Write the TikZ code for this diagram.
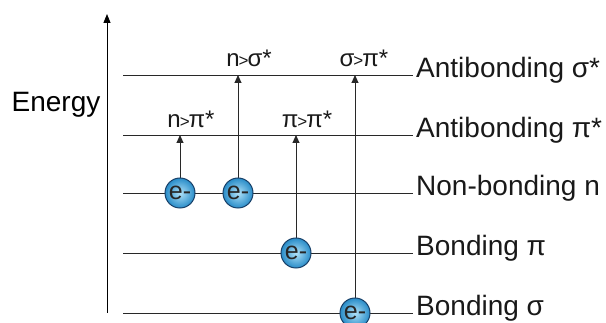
\documentclass[tikz,border=0pt]{standalone}
\usepackage{fontspec}
\setmainfont{Liberation Sans}
\usetikzlibrary{arrows.meta}
\definecolor{lvl}{RGB}{40,40,40}
\definecolor{ballin}{RGB}{175,225,248}
\definecolor{ballout}{RGB}{40,140,200}
\definecolor{ballrim}{RGB}{25,65,105}
\tikzset{
  level/.style={line width=0.9pt, draw=lvl},
  levlabel/.style={anchor=mid west, inner sep=0pt, font=\fontsize{28}{28}\selectfont, text=black!90},
  translabel/.style={anchor=base, inner sep=0pt, font=\fontsize{24}{24}\selectfont, text=black!90},
  excite/.style={line width=0.9pt, draw=lvl, -{Triangle[length=8pt,width=7pt]}},
  electron/.style={circle, minimum size=30pt, inner sep=0pt, draw=ballrim, line width=1pt,
    inner color=ballin, outer color=ballout, font=\fontsize{25}{25}\selectfont, text=black!85},
}
\newcommand{\gt}{\kern-1pt\raisebox{0.5pt}{\fontsize{17}{17}\selectfont>}\kern-1pt}
\begin{document}
\begin{tikzpicture}[x=1pt,y=-1pt]
\useasboundingbox (0,0) rectangle (606,323);
% energy axis
\coordinate (axb) at (107,313);
\coordinate (axt) at (107,14);
\draw[line width=0.9pt, -{Triangle[length=9pt,width=7pt]}] (axb) -- (axt);
\node[anchor=base, inner sep=0pt, font=\fontsize{28}{28}\selectfont] (energy) at (56,112) {Energy};
% orbital levels
\foreach \nm/\y in {ss/75, ps/135, nb/193, bp/253, bs/313}{
  \coordinate (\nm L) at (123,\y);
  \coordinate (\nm R) at (413,\y);
  \draw[level] (\nm L) -- (\nm R);
}
\node[levlabel] (lss) at (416,75) {Antibonding σ*};
\node[levlabel] (lps) at (416,135) {Antibonding π*};
\node[levlabel] (lnb) at (416,193) {Non-bonding n};
\node[levlabel] (lbp) at (416,253) {Bonding π};
\node[levlabel] (lbs) at (416,313) {Bonding σ};
% arrow targets on upper levels
\coordinate (t1) at (180,135);
\coordinate (t2) at (238,75);
\coordinate (t3) at (296,135);
\coordinate (t4) at (355,75);
% electrons
\coordinate (e1c) at (180,193);
\coordinate (e2c) at (238,193);
\coordinate (e3c) at (296,253);
\coordinate (e4c) at (355,313);
\draw[excite] (e1c) -- (t1);
\draw[excite] (e2c) -- (t2);
\draw[excite] (e3c) -- (t3);
\draw[excite] (e4c) -- (t4);
\node[electron] (e1) at (e1c) {e-};
\node[electron] (e2) at (e2c) {e-};
\node[electron] (e3) at (e3c) {e-};
\node[electron] (e4) at (e4c) {e-};
% transition labels
\node[translabel] (tr1) at (191,128) {n\gt π*};
\node[translabel] (tr2) at (249,67) {n\gt σ*};
\node[translabel] (tr3) at (307,128) {π\gt π*};
\node[translabel] (tr4) at (364,67) {σ\gt π*};
\end{tikzpicture}
\end{document}
